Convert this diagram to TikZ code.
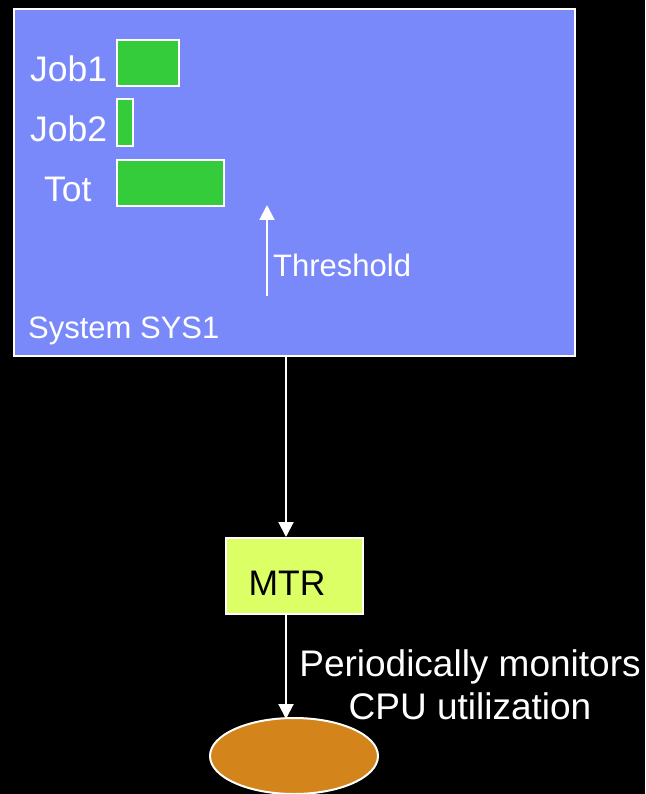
\documentclass[tikz,border=0pt]{standalone}
\usepackage{fontspec}
\setmainfont{Liberation Sans}
\usetikzlibrary{arrows.meta,shapes.geometric}
\definecolor{sysblue}{RGB}{122,137,250}
\definecolor{bargreen}{RGB}{53,204,59}
\definecolor{mtryellow}{RGB}{221,255,102}
\definecolor{diskorange}{RGB}{211,132,26}
\tikzset{
  wbox/.style={draw=white, line width=2pt, inner sep=0pt, anchor=north west},
  bar/.style={wbox, fill=bargreen},
  lbl/.style={text=white, inner sep=0pt, anchor=base west},
  big/.style={font=\fontsize{35.5}{40}\selectfont},
  mid/.style={font=\fontsize{31}{36}\selectfont},
  flow/.style={draw=white, line width=2pt, -{Triangle[width=15pt,length=15pt]}}
}
\begin{document}
\begin{tikzpicture}[x=1pt,y=-1pt]
\fill[black] (0,0) rectangle (645,794);
\useasboundingbox (0,0) rectangle (645,794);

% system box
\node[wbox, fill=sysblue, minimum width=561pt, minimum height=347pt] (sys) at (13,8) {};

% usage bars
\node[bar, minimum width=62pt, minimum height=46pt] (b1) at (116,39) {};
\node[bar, minimum width=16pt, minimum height=47pt] (b2) at (116,98) {};
\node[bar, minimum width=107pt, minimum height=46pt] (b3) at (116,159) {};

\node[lbl, big] (l1) at (30,82) {Job1};
\node[lbl, big] (l2) at (30,142) {Job2};
\node[lbl, big] (l3) at (44,202) {Tot};

% threshold marker
\coordinate (thlo) at (267,296);
\coordinate (thhi) at (267,205);
\draw[flow] (thlo) -- (thhi);
\node[lbl, mid] (th) at (273,276) {Threshold};

\node[lbl, mid] (sysname) at (28,338) {System SYS1};

% monitor
\node[wbox, fill=mtryellow, minimum width=137pt, minimum height=76pt] (mtr) at (225,537) {};
\node[inner sep=0pt, anchor=base, big, text=black] (mtrtxt) at (287,595) {MTR};

% data store
\node[ellipse, draw=white, line width=2pt, fill=diskorange, minimum width=168pt, minimum height=76pt, inner sep=0pt] (disk) at (294,756) {};

% connectors
\coordinate (sysout) at (286,355);
\coordinate (mtrin) at (286,537);
\coordinate (mtrout) at (286,613);
\coordinate (diskin) at (286,719);
\draw[flow] (sysout) -- (mtrin);
\draw[flow] (mtrout) -- (diskin);

\node[text=white, inner sep=0pt, anchor=base, font=\fontsize{37}{43}\selectfont, align=center] (note) at (470,719) {Periodically monitors\\CPU utilization};
\end{tikzpicture}
\end{document}
